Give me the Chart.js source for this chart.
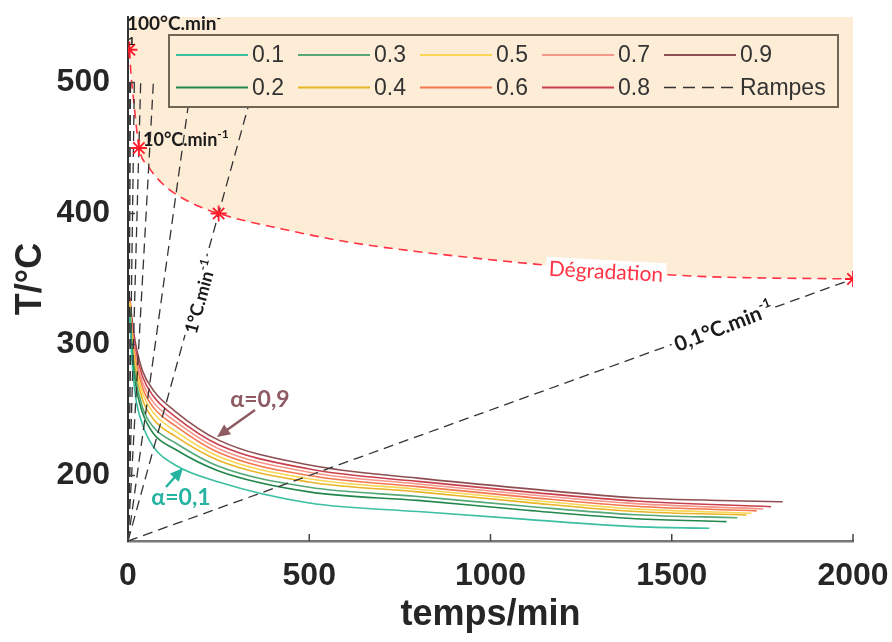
<!DOCTYPE html>
<html><head><meta charset="utf-8">
<script src="https://cdn.jsdelivr.net/npm/chart.js@4"></script>
<style>html,body{margin:0;padding:0;background:#fff;}#wrap{width:892px;height:642px;}</style>
</head><body><div id="wrap"><canvas id="c" width="892" height="642" style="width:892px;height:642px"></canvas></div>
<script>
// ---------- data ----------
const alphaLabels = ['0.1','0.2','0.3','0.4','0.5','0.6','0.7','0.8','0.9'];
const tGrid = [5,10,20,40,70,130,250,500,800,1100,1400];           // min
const T01 = [322,292,262,239,222,208,195,179,172.5,166.5,161];
const T02 = [326,298,271,248,232,220,203.5,187.5,181,173.5,167];
const T03 = [328,302,276,252,237,225,207,191,184,176.5,170];
const T04 = [330,306,281,258,243,230,211.5,195,187.5,179.5,172.5];
const T05 = [332,309,285,263,248,234,214.5,197.5,189.5,181.5,174.5];
const T06 = [333,312,289,267,252,238,217.5,200,191.5,183.5,176.5];
const T07 = [334,315,293,271,256,241.5,220.5,202.5,193.5,185.5,178.5];
const T08 = [335,318,297,275.5,260.5,245,223.5,205,195.5,187.5,180.5];
const T09 = [336,322,302,280,265,249,227,208,198,190,183];
const tEnd = [1604,1651,1681,1706,1720,1734,1752,1774,1806];
const TEnd = [159.7,164.8,167.8,169.9,171.2,173,174.5,176.2,180];

const rampStart = [0,150];
const rampEndTime = [3.5,7,17.5,35,70,175,350,2000];
const rampEndTemp = [500,500,500,500,500,500,500,350];

const degTime = [3.75,8.6,16,30,56,102,176,250,428,612,796,1026,1302,1578,2000];
const degTemp = [525,505,485,451,436,421,408,400,388,378,371,364,357,352,350];
const starTime = [3.75,30,250,2000];
const starTemp = [525,450,400,350];

const xTickValues = [0,500,1000,1500,2000];
const yTickValues = [200,300,400,500];

// ---------- styles ----------
const alphaColors = ['#3cbfa2','#22874c','#55a977','#e7b526','#f9d654','#f4784f','#f5968a','#c9404c','#8d4f52'];
const PEACH = '#fdecd6';
const series = [T01,T02,T03,T04,T05,T06,T07,T08,T09];
const AREA = {left:128, top:17, right:853, bottom:541};

const curveSets = series.map((arr,i)=>({
  label: alphaLabels[i],
  data: tGrid.map((t,k)=>({x:t,y:arr[k]})).concat([{x:tEnd[i],y:TEnd[i]}]),
  borderColor: alphaColors[i], borderWidth:1.6, pointRadius:0,
  cubicInterpolationMode:'monotone', fill:false
}));
const rampSets = rampEndTime.map((t,i)=>({
  label:'Rampes',
  data:[{x:rampStart[0],y:rampStart[1]},{x:t,y:rampEndTemp[i]}],
  borderColor:'#333', borderWidth:1.3, borderDash:[10,6], pointRadius:0, fill:false
}));
const degSet = {
  label:'Dégradation', data: degTime.map((t,k)=>({x:t,y:degTemp[k]})),
  borderColor:'#ff3344', borderWidth:1.6, borderDash:[9,6], pointRadius:0,
  cubicInterpolationMode:'monotone', fill:'end', backgroundColor:PEACH
};
const starSet = {
  label:'stars', data: starTime.map((t,k)=>({x:t,y:starTemp[k]})),
  showLine:false, pointStyle:'star', pointRadius:8, borderColor:'#ff1a2a', borderWidth:1.8,
  backgroundColor:'#ff1a2a'
};
const legendSets = curveSets.concat([rampSets[0]]);

// ---------- helpers ----------
function drawLabel(ctx,o){
  ctx.save();
  ctx.translate(o.x,o.y); ctx.rotate((o.rot||0)*Math.PI/180);
  ctx.font=o.font; const w=ctx.measureText(o.text).width;
  let sw=0; if(o.sup){ctx.font=o.supFont; sw=ctx.measureText(o.sup).width;}
  const total=w+sw;
  const x0 = o.align==='left'?0:-total/2;
  if(o.bg){ctx.fillStyle=o.bg; ctx.fillRect(x0-3,-o.h/2-2,total+6,o.h+4);}
  ctx.fillStyle=o.color; ctx.textBaseline='middle'; ctx.textAlign='left';
  ctx.font=o.font; ctx.fillText(o.text,x0,0);
  if(o.sup){ctx.font=o.supFont; ctx.fillText(o.sup,x0+w,-o.supDy);}
  ctx.restore();
}
function arrow(ctx,x1,y1,x2,y2,color){
  const a=Math.atan2(y2-y1,x2-x1), L=13, W=6;
  ctx.save(); ctx.strokeStyle=color; ctx.fillStyle=color; ctx.lineWidth=2.5;
  ctx.beginPath(); ctx.moveTo(x1,y1); ctx.lineTo(x2-Math.cos(a)*L*0.8,y2-Math.sin(a)*L*0.8); ctx.stroke();
  ctx.beginPath(); ctx.moveTo(x2,y2);
  ctx.lineTo(x2-Math.cos(a)*L-Math.sin(a)*W, y2-Math.sin(a)*L+Math.cos(a)*W);
  ctx.lineTo(x2-Math.cos(a)*L+Math.sin(a)*W, y2-Math.sin(a)*L-Math.cos(a)*W);
  ctx.closePath(); ctx.fill(); ctx.restore();
}

const innerTicks = {
  id:'innerTicks',
  afterDatasetsDraw(chart){
    const ctx=chart.ctx, {x,y}=chart.scales, a=chart.chartArea;
    ctx.save(); ctx.strokeStyle='#444'; ctx.lineWidth=1.5;
    y.ticks.forEach(t=>{const p=y.getPixelForValue(t.value); ctx.beginPath(); ctx.moveTo(a.left,p); ctx.lineTo(a.left+7,p); ctx.stroke();});
    x.ticks.forEach(t=>{const p=x.getPixelForValue(t.value); ctx.beginPath(); ctx.moveTo(p,a.bottom); ctx.lineTo(p,a.bottom-7); ctx.stroke();});
    ctx.restore();
    const B='bold ';
    drawLabel(ctx,{text:'100°C.min',sup:'-',x:127,y:24,align:'left',font:B+'19px Lato',supFont:B+'12px Lato',supDy:6,color:'#1b1b1b'});
    drawLabel(ctx,{text:'1',x:128,y:41,align:'left',font:B+'12px Lato',color:'#1b1b1b'});
    drawLabel(ctx,{text:'10°C.min',sup:'-1',x:143,y:140,align:'left',font:B+'18px Lato',supFont:B+'12px Lato',supDy:6,color:'#1b1b1b'});
    drawLabel(ctx,{text:'1°C.min',sup:'-1',x:201,y:297,rot:-74.5,font:B+'18px Lato',supFont:B+'12px Lato',supDy:6,color:'#1b1b1b',bg:'#ffffff',h:18});
    drawLabel(ctx,{text:'0,1°C.min',sup:'-1',x:724,y:327,rot:-21,font:B+'21px Lato',supFont:B+'13px Lato',supDy:7,color:'#1b1b1b',bg:'#ffffff',h:20});
    drawLabel(ctx,{text:'Dégradation',x:606,y:272,rot:3,font:'21px Lato',color:'#ff3344',bg:'#ffffff',h:20});
    drawLabel(ctx,{text:'α=0,9',x:260,y:400,font:B+'23px Lato',color:'#8e5b62'});
    arrow(ctx,255,410,217,437,'#8e5b62');
    drawLabel(ctx,{text:'α=0,1',x:181,y:498,font:B+'23px Lato',color:'#26b3a0'});
    arrow(ctx,166,487,183,468,'#26b3a0');
  },
  afterDraw(chart){
    const ctx=chart.ctx;
    ctx.save();
    ctx.fillStyle=PEACH; ctx.fillRect(169,35,669,72);
    ctx.lineWidth=2; ctx.strokeStyle='#6f6656'; ctx.strokeRect(169,35,669,72);
    ctx.font='23px "Liberation Sans"'; ctx.textBaseline='middle'; ctx.textAlign='left';
    legendSets.forEach((d,i)=>{
      const col=Math.floor(i/2), row=i%2;
      const x=176+col*122, y=row?87.5:55;
      ctx.strokeStyle=d.borderColor; ctx.lineWidth=d.borderDash?1.5:1.8;
      ctx.setLineDash(d.borderDash?[12,7]:[]);
      ctx.beginPath(); ctx.moveTo(x,y); ctx.lineTo(x+72,y); ctx.stroke();
      ctx.setLineDash([]);
      ctx.fillStyle='#333'; ctx.fillText(d.label,x+76,y+1);
    });
    ctx.restore();
  }
};

const pad = {top:AREA.top,right:892-AREA.right,left:0,bottom:0};
const chart = new Chart(document.getElementById('c'),{
  type:'line',
  data:{datasets:[starSet].concat(rampSets, curveSets, [degSet])},
  options:{
    responsive:false, animation:false,
    layout:{autoPadding:false,padding:pad},
    plugins:{legend:{display:false},tooltip:{enabled:false}},
    scales:{
      x:{type:'linear',min:0,max:2000,
        afterBuildTicks:s=>{s.ticks=xTickValues.map(v=>({value:v}));},
        afterFit:s=>{s.height=642-AREA.bottom; s.paddingLeft=0; s.paddingRight=0;},
        grid:{display:false,drawTicks:false},
        border:{display:true,color:'#777',width:2.5},
        ticks:{font:{family:'Liberation Sans',size:32,weight:'bold'},color:'#262626',padding:16,maxRotation:0,callback:v=>String(v)},
        title:{display:true,text:'temps/min',font:{family:'Liberation Sans',size:36,weight:'bold'},color:'#262626',padding:{top:0,bottom:5}}
      },
      y:{type:'linear',min:150,max:550,
        afterBuildTicks:s=>{s.ticks=yTickValues.map(v=>({value:v}));},
        afterFit:s=>{s.width=AREA.left; s.paddingTop=0; s.paddingBottom=0;},
        grid:{display:false,drawTicks:false},
        border:{display:true,color:'#333',width:2},
        ticks:{font:{family:'Liberation Sans',size:32,weight:'bold'},color:'#262626',padding:18,callback:v=>String(v)},
        title:{display:true,text:'T/°C',font:{family:'Liberation Sans',size:36,weight:'bold'},color:'#262626',padding:{top:9,bottom:0}}
      }
    }
  },
  plugins:[innerTicks]
});
</script></body></html>
